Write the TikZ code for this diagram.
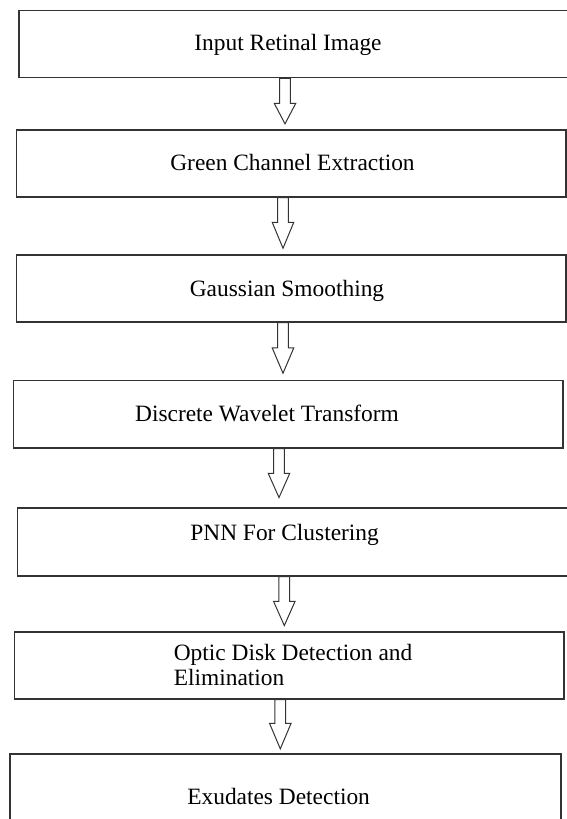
\documentclass[tikz,border=0pt]{standalone}
\usepackage{fontspec}
\setmainfont{Liberation Serif}
\begin{document}
\begin{tikzpicture}[x=1pt,y=-1pt,
  stagebox/.style={draw=black!80,line width=1.1pt,rectangle,inner sep=0pt},
  stagetext/.style={font=\fontsize{23.4}{26}\selectfont,inner sep=0pt,anchor=base},
  blockarr/.style={draw=black!80,line width=1pt,fill=white,line join=miter}]
\useasboundingbox (0,0) rectangle (567,819);

% process stages
\node[stagebox,minimum width=561pt,minimum height=67.2pt] (b1) at (299.5,44.1) {};
\node[stagebox,minimum width=549.3pt,minimum height=67pt] (b2) at (291.35,163.5) {};
\node[stagebox,minimum width=549.3pt,minimum height=67pt] (b3) at (291.35,288.5) {};
\node[stagebox,minimum width=549.7pt,minimum height=67.5pt] (b4) at (288.15,414.25) {};
\node[stagebox,minimum width=562.3pt,minimum height=68pt] (b5) at (298.85,542) {};
\node[stagebox,minimum width=549.7pt,minimum height=67pt] (b6) at (289.15,665.5) {};
\node[stagebox,minimum width=551pt,minimum height=86pt] (b7) at (285.5,797) {};

\node[stagetext] (t1) at (288,50) {Input Retinal Image};
\node[stagetext] (t2) at (292.5,170) {Green Channel Extraction};
\node[stagetext] (t3) at (287,296) {Gaussian Smoothing};
\node[stagetext] (t4) at (267,421) {Discrete Wavelet Transform};
\node[stagetext] (t5) at (284.6,540) {PNN For Clustering};
\node[stagetext,anchor=base west] (t6a) at (173.6,660) {Optic Disk Detection and};
\node[stagetext,anchor=base west] (t6b) at (173.6,685) {Elimination};
\node[stagetext] (t7) at (278.6,804) {Exudates Detection};

% hollow block arrow below a stage: #1 stage, #2 x offset, #3 shaft length, #4 tip depth
\newcommand\flowarrow[4]{%
  \draw[blockarr] ([xshift=#2pt-5.4pt]#1.south) -- ++(10.8,0) -- ++(0,#3)
    -- ++(5.4,0) -- ++(-10.8,{#4-#3}) -- ++(-10.8,{#3-#4}) -- ++(5.4,0) -- cycle;}
\flowarrow{b1}{-14.5}{25}{45.6}
\flowarrow{b2}{-8.35}{24.7}{50.7}
\flowarrow{b3}{-8.35}{25.3}{50.7}
\flowarrow{b4}{-9.15}{24.7}{49}
\flowarrow{b5}{-14.55}{24.7}{49}
\flowarrow{b6}{-8.85}{23.7}{49.3}
\end{tikzpicture}
\end{document}
